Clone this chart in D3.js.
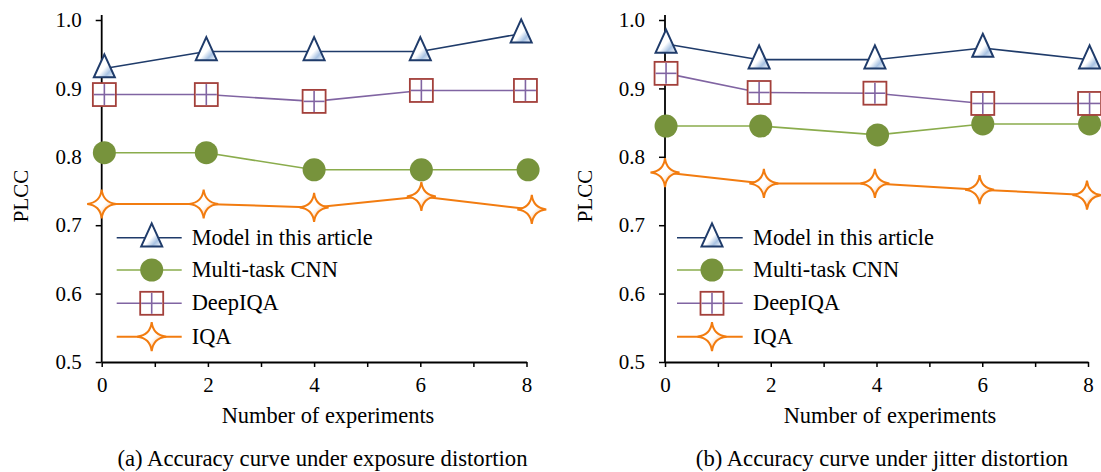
<!DOCTYPE html>
<html>
<head>
<meta charset="utf-8">
<script src="https://cdn.jsdelivr.net/npm/d3@7"></script>
<style>
  html, body { margin: 0; padding: 0; background: #fff; }
  svg { display: block; font-family: "Liberation Serif", "Times New Roman", serif; }
</style>
</head>
<body>
<svg id="chart" width="1101" height="472"></svg>
<script>
// ---------- data ----------
const seriesNames = ["Model in this article", "Multi-task CNN", "DeepIQA", "IQA"];
const yTickValues = [0.5, 0.6, 0.7, 0.8, 0.9, 1.0];
const xTickValues = [0, 1, 2, 3, 4, 5, 6, 7, 8];
const xLabelValues = [0, 2, 4, 6, 8];
const captions = ["(a) Accuracy curve under exposure distortion", "(b) Accuracy curve under jitter distortion"];
const xTitle = "Number of experiments";
const yTitle = "PLCC";

// (a) exposure distortion
const expModelX = [0.05, 1.97, 4.0, 6.0, 7.9];
const expModelY = [0.929, 0.954, 0.954, 0.954, 0.98];
const expCnnX = [0.05, 1.97, 4.0, 6.02, 8.03];
const expCnnY = [0.806, 0.806, 0.781, 0.781, 0.781];
const expDeepX = [0.05, 1.97, 4.0, 6.02, 7.98];
const expDeepY = [0.891, 0.891, 0.881, 0.897, 0.897];
const expIqaX = [0.0, 1.92, 4.0, 6.02, 8.1];
const expIqaY = [0.731, 0.731, 0.726, 0.742, 0.723];

// (b) jitter distortion
const jitModelX = [0.02, 1.78, 3.97, 6.01, 8.03];
const jitModelY = [0.965, 0.942, 0.942, 0.959, 0.942];
const jitCnnX = [0.02, 1.81, 4.02, 6.01, 8.03];
const jitCnnY = [0.845, 0.845, 0.832, 0.848, 0.848];
const jitDeepX = [0.02, 1.78, 3.97, 6.01, 8.03];
const jitDeepY = [0.922, 0.894, 0.893, 0.878, 0.878];
const jitIqaX = [0.0, 1.87, 3.97, 5.95, 7.98];
const jitIqaY = [0.777, 0.761, 0.761, 0.752, 0.744];

// ---------- styles ----------
const C = {
  navy: "#1f3b6a", green: "#8aac4c", greenFill: "#77933c",
  purple: "#8064a2", red: "#a3403b", orange: "#f27c10"
};
const FONT_TICK = 21, FONT_TITLE = 22.4, FONT_LEG = 22.4, FONT_CAP = 22.7;

const svg = d3.select("#chart");
const defs = svg.append("defs");
function grad(id, c) {
  const g = defs.append("linearGradient").attr("id", id)
    .attr("x1", "0%").attr("y1", "0%").attr("x2", "100%").attr("y2", "100%");
  g.append("stop").attr("offset", "0%").attr("stop-color", "#fff");
  g.append("stop").attr("offset", "55%").attr("stop-color", "#fff");
  g.append("stop").attr("offset", "75%").attr("stop-color", c);
  g.append("stop").attr("offset", "100%").attr("stop-color", "#fff");
}
grad("gBlue", "#a9c3e3");
grad("gOrange", "#f9c9a0");

// marker drawers
function triangle(g) {
  const w = 21, h = 23;
  g.append("path")
    .attr("d", `M0,${-h * 0.62} L${w / 2},${h * 0.38} L${-w / 2},${h * 0.38} Z`)
    .attr("fill", "url(#gBlue)").attr("stroke", C.navy).attr("stroke-width", 2)
    .attr("stroke-linejoin", "miter");
}
function circle(g) {
  g.append("circle").attr("r", 11.5).attr("fill", C.greenFill);
}
function square(g) {
  const s = 23;
  g.append("rect").attr("x", -s / 2).attr("y", -s / 2).attr("width", s).attr("height", s)
    .attr("fill", "#fff").attr("stroke", C.red).attr("stroke-width", 1.8);
  g.append("line").attr("x1", -s / 2 + 1).attr("x2", s / 2 - 1).attr("y1", 0).attr("y2", 0)
    .attr("stroke", C.purple).attr("stroke-width", 1.6);
  g.append("line").attr("x1", 0).attr("x2", 0).attr("y1", -s / 2 + 1).attr("y2", s / 2 - 1)
    .attr("stroke", C.purple).attr("stroke-width", 1.6);
}
function star(g) {
  const R = 14.5, c = R * 0.1;
  const d = `M0,${-R} Q${c},${-c} ${R},0 Q${c},${c} 0,${R} Q${-c},${c} ${-R},0 Q${-c},${-c} 0,${-R} Z`;
  g.append("path").attr("d", d).attr("fill", "url(#gOrange)")
    .attr("stroke", C.orange).attr("stroke-width", 2).attr("stroke-linejoin", "miter");
}

const seriesStyle = [
  { line: C.navy, width: 1.6, marker: triangle },
  { line: C.green, width: 1.6, marker: circle },
  { line: C.purple, width: 1.6, marker: square },
  { line: C.orange, width: 2, marker: star }
];

const panels = [
  {
    xRange: [101.7, 526.5],
    series: [[expModelX, expModelY], [expCnnX, expCnnY], [expDeepX, expDeepY], [expIqaX, expIqaY]],
    yTitleX: 28, xTitleX: 328, capX: 322.5,
    legLine: [116.7, 181.7], legMarker: 151.7, legText: 191.7
  },
  {
    xRange: [665, 1088],
    series: [[jitModelX, jitModelY], [jitCnnX, jitCnnY], [jitDeepX, jitDeepY], [jitIqaX, jitIqaY]],
    yTitleX: 592, xTitleX: 890, capX: 882,
    legLine: [677, 742.7], legMarker: 712, legText: 753
  }
];
const yRange = [362, 20];
const legendY = [237.7, 270, 303.3, 336.7];

panels.forEach((p, pi) => {
  const x = d3.scaleLinear().domain([0, 8]).range(p.xRange);
  const y = d3.scaleLinear().domain([0.5, 1.0]).range(yRange);
  const g = svg.append("g");

  // axes
  const yAxis = d3.axisLeft(y).tickValues(yTickValues).tickFormat(d3.format(".1f"))
    .tickSize(6).tickSizeOuter(0).tickPadding(14);
  const ya = g.append("g").attr("transform", `translate(${p.xRange[0]},0)`).call(yAxis);
  const xAxis = d3.axisBottom(x).tickValues(xTickValues)
    .tickFormat(d => xLabelValues.includes(d) ? d : "")
    .tickSize(5).tickSizeOuter(0).tickPadding(10);
  const xa = g.append("g").attr("transform", `translate(0,${yRange[0]})`).call(xAxis);
  [ya, xa].forEach(a => {
    a.selectAll("path.domain").attr("stroke", "#000").attr("stroke-width", 1.8);
    a.selectAll(".tick line").attr("stroke", "#000").attr("stroke-width", 1.5);
    a.selectAll("text").attr("fill", "#000").attr("font-size", FONT_TICK)
      .attr("font-family", "Liberation Serif, Times New Roman, serif");
  });
  // extend y axis slightly above 1.0
  ya.select("path.domain").attr("d", `M0,${yRange[0]}V${yRange[1] - 5}`);

  // titles
  g.append("text").attr("transform", `translate(${p.yTitleX},196) rotate(-90)`)
    .attr("text-anchor", "middle").attr("font-size", FONT_TICK).text(yTitle);
  g.append("text").attr("x", p.xTitleX).attr("y", 423).attr("text-anchor", "middle")
    .attr("font-size", FONT_TITLE).text(xTitle);
  g.append("text").attr("x", p.capX).attr("y", 466).attr("text-anchor", "middle")
    .attr("font-size", FONT_CAP).text(captions[pi]);

  // series lines
  const line = d3.line().x(d => x(d[0])).y(d => y(d[1]));
  p.series.forEach((s, si) => {
    const pts = s[0].map((xv, i) => [xv, s[1][i]]);
    g.append("path").datum(pts).attr("d", line).attr("fill", "none")
      .attr("stroke", seriesStyle[si].line).attr("stroke-width", seriesStyle[si].width);
  });
  // markers
  p.series.forEach((s, si) => {
    s[0].forEach((xv, i) => {
      const mg = g.append("g").attr("transform", `translate(${x(xv)},${y(s[1][i])})`);
      seriesStyle[si].marker(mg);
    });
  });

  // legend
  seriesNames.forEach((name, si) => {
    const ly = legendY[si];
    g.append("line").attr("x1", p.legLine[0]).attr("x2", p.legLine[1])
      .attr("y1", ly).attr("y2", ly)
      .attr("stroke", seriesStyle[si].line).attr("stroke-width", seriesStyle[si].width);
    const mg = g.append("g").attr("transform", `translate(${p.legMarker},${ly})`);
    seriesStyle[si].marker(mg);
    g.append("text").attr("x", p.legText).attr("y", ly + 7)
      .attr("font-size", FONT_LEG).text(name);
  });
});
</script>
</body>
</html>
